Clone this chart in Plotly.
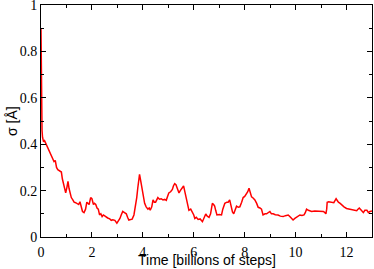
import plotly.graph_objects as go

time = [0, 0.005, 0.01, 0.015, 0.02, 0.03, 0.04, 0.06, 0.1, 0.14,
        0.2, 0.25, 0.3, 0.38, 0.45, 0.51, 0.56, 0.61, 0.66, 0.71,
        0.8, 0.84, 0.88, 0.93, 0.97, 1.02, 1.06, 1.1, 1.13, 1.19,
        1.25, 1.3, 1.36, 1.43, 1.48, 1.53, 1.58, 1.63, 1.69, 1.75,
        1.8, 1.85, 1.89, 1.95, 2.0, 2.06, 2.1, 2.15, 2.2, 2.25,
        2.3, 2.35, 2.4, 2.45, 2.5, 2.56, 2.62, 2.7, 2.76, 2.82,
        2.9, 2.98, 3.04, 3.1, 3.15, 3.21, 3.28, 3.35, 3.4, 3.45,
        3.52, 3.58, 3.65, 3.71, 3.76, 3.8, 3.87, 3.92, 3.96, 4.02,
        4.07, 4.13, 4.2, 4.25, 4.29, 4.35, 4.4, 4.45, 4.5, 4.59,
        4.65, 4.72, 4.79, 4.86, 4.92, 4.97, 5.02, 5.09, 5.16, 5.2,
        5.25, 5.3, 5.34, 5.38, 5.42, 5.47, 5.51, 5.56, 5.6, 5.66,
        5.71, 5.76, 5.81, 5.88, 5.94, 6.0, 6.04, 6.1, 6.17, 6.25,
        6.34, 6.4, 6.47, 6.53, 6.6, 6.66, 6.73, 6.78, 6.82, 6.86,
        6.91, 7.0, 7.09, 7.14, 7.22, 7.3, 7.35, 7.41, 7.45, 7.48,
        7.52, 7.57, 7.63, 7.68, 7.75, 7.81, 7.88, 7.94, 8.0, 8.07,
        8.12, 8.17, 8.22, 8.27, 8.33, 8.4, 8.47, 8.53, 8.6, 8.66,
        8.72, 8.8, 8.86, 8.92, 8.99, 9.05, 9.12, 9.2, 9.31, 9.4,
        9.51, 9.6, 9.71, 9.8, 9.9, 9.97, 10.04, 10.1, 10.17, 10.25,
        10.33, 10.38, 10.43, 10.5, 10.63, 10.75, 10.89, 11.0, 11.09, 11.15,
        11.19, 11.22, 11.24, 11.3, 11.42, 11.5, 11.59, 11.63, 11.68, 11.75,
        11.81, 11.9, 12.0, 12.1, 12.2, 12.3, 12.4, 12.45, 12.5, 12.58,
        12.66, 12.72, 12.8, 12.86, 12.92, 13.0]

sigma = [0.90, 0.75, 0.62, 0.55, 0.60, 0.52, 0.46, 0.43, 0.41, 0.415,
         0.40, 0.39, 0.375, 0.36, 0.34, 0.325, 0.33, 0.30, 0.29, 0.285,
         0.28, 0.25, 0.23, 0.21, 0.19, 0.215, 0.24, 0.21, 0.195, 0.17,
         0.16, 0.15, 0.148, 0.143, 0.14, 0.152, 0.125, 0.11, 0.105, 0.12,
         0.15, 0.145, 0.14, 0.17, 0.165, 0.14, 0.145, 0.14, 0.125, 0.12,
         0.095, 0.10, 0.088, 0.095, 0.09, 0.085, 0.082, 0.078, 0.072, 0.074,
         0.072, 0.06, 0.068, 0.08, 0.095, 0.11, 0.105, 0.10, 0.085, 0.073,
         0.075, 0.077, 0.095, 0.13, 0.17, 0.21, 0.27, 0.24, 0.21, 0.17,
         0.145, 0.13, 0.12, 0.125, 0.115, 0.13, 0.16, 0.15, 0.15, 0.17,
         0.163, 0.165, 0.16, 0.162, 0.158, 0.175, 0.19, 0.195, 0.205, 0.22,
         0.23, 0.225, 0.215, 0.20, 0.19, 0.20, 0.205, 0.215, 0.22, 0.19,
         0.16, 0.13, 0.115, 0.12, 0.11, 0.095, 0.08, 0.085, 0.076, 0.078,
         0.066, 0.08, 0.099, 0.09, 0.085, 0.10, 0.145, 0.14, 0.133, 0.115,
         0.095, 0.097, 0.095, 0.12, 0.145, 0.15, 0.15, 0.16, 0.14, 0.12,
         0.108, 0.10, 0.118, 0.133, 0.128, 0.13, 0.15, 0.17, 0.175, 0.185,
         0.195, 0.21, 0.19, 0.173, 0.168, 0.16, 0.145, 0.128, 0.125, 0.12,
         0.095, 0.10, 0.10, 0.105, 0.11, 0.10, 0.10, 0.096, 0.095, 0.09,
         0.088, 0.092, 0.095, 0.085, 0.073, 0.08, 0.085, 0.09, 0.095, 0.093,
         0.095, 0.105, 0.12, 0.115, 0.11, 0.112, 0.11, 0.108, 0.11, 0.105,
         0.10, 0.12, 0.15, 0.152, 0.15, 0.148, 0.165, 0.158, 0.15, 0.145,
         0.137, 0.13, 0.123, 0.12, 0.116, 0.115, 0.113, 0.12, 0.125, 0.115,
         0.105, 0.115, 0.115, 0.105, 0.11, 0.112]

x_ticks = [0, 2, 4, 6, 8, 10, 12]
y_ticks = [0, 0.2, 0.4, 0.6, 0.8, 1]
y_tick_labels = ["0", "0.2", "0.4", "0.6", "0.8", "1"]
x_title = "Time [billions of steps]"
y_title = "σ [Å]"

fig = go.Figure()
fig.add_trace(go.Scatter(x=time, y=sigma, mode="lines",
                         line=dict(color="#ff0000", width=1.5),
                         showlegend=False, hoverinfo="skip"))

serif = "Liberation Serif"
axis_common = dict(
    showline=True, linecolor="black", linewidth=1, mirror="allticks",
    ticks="inside", ticklen=5, tickwidth=1, tickcolor="black",
    showgrid=False, zeroline=False, automargin=False,
    ticklabeloverflow="allow",
    tickfont=dict(family=serif, size=14, color="black"),
)

fig.update_xaxes(
    range=[0, 13], tickvals=x_ticks, ticktext=[str(v) for v in x_ticks],
    ticklabelstandoff=2,
    minor=dict(dtick=1, tick0=0, ticks="inside", ticklen=3, tickcolor="black", showgrid=False),
    **axis_common,
)
fig.update_yaxes(
    range=[0, 1], tickvals=y_ticks, ticktext=y_tick_labels,
    minor=dict(dtick=0.1, tick0=0, ticks="inside", ticklen=3, tickcolor="black", showgrid=False),
    **axis_common,
)

title_font = dict(family="Liberation Sans", size=14, color="black")
fig.add_annotation(text=x_title, xref="paper", yref="paper", x=0.5, y=-0.097,
                   xanchor="center", yanchor="middle", showarrow=False, font=title_font)
fig.add_annotation(text=y_title, xref="paper", yref="paper", x=-0.0876, y=0.5,
                   xanchor="center", yanchor="middle", textangle=-90,
                   showarrow=False, font=title_font)

fig.update_layout(
    width=374, height=269,
    margin=dict(l=41, r=2, t=5, b=32),
    font=dict(family=serif, size=14, color="black"),
    paper_bgcolor="white", plot_bgcolor="white",
)

fig.write_html("out.html", config={"displayModeBar": False},
               post_script="document.body.style.margin='0';")
